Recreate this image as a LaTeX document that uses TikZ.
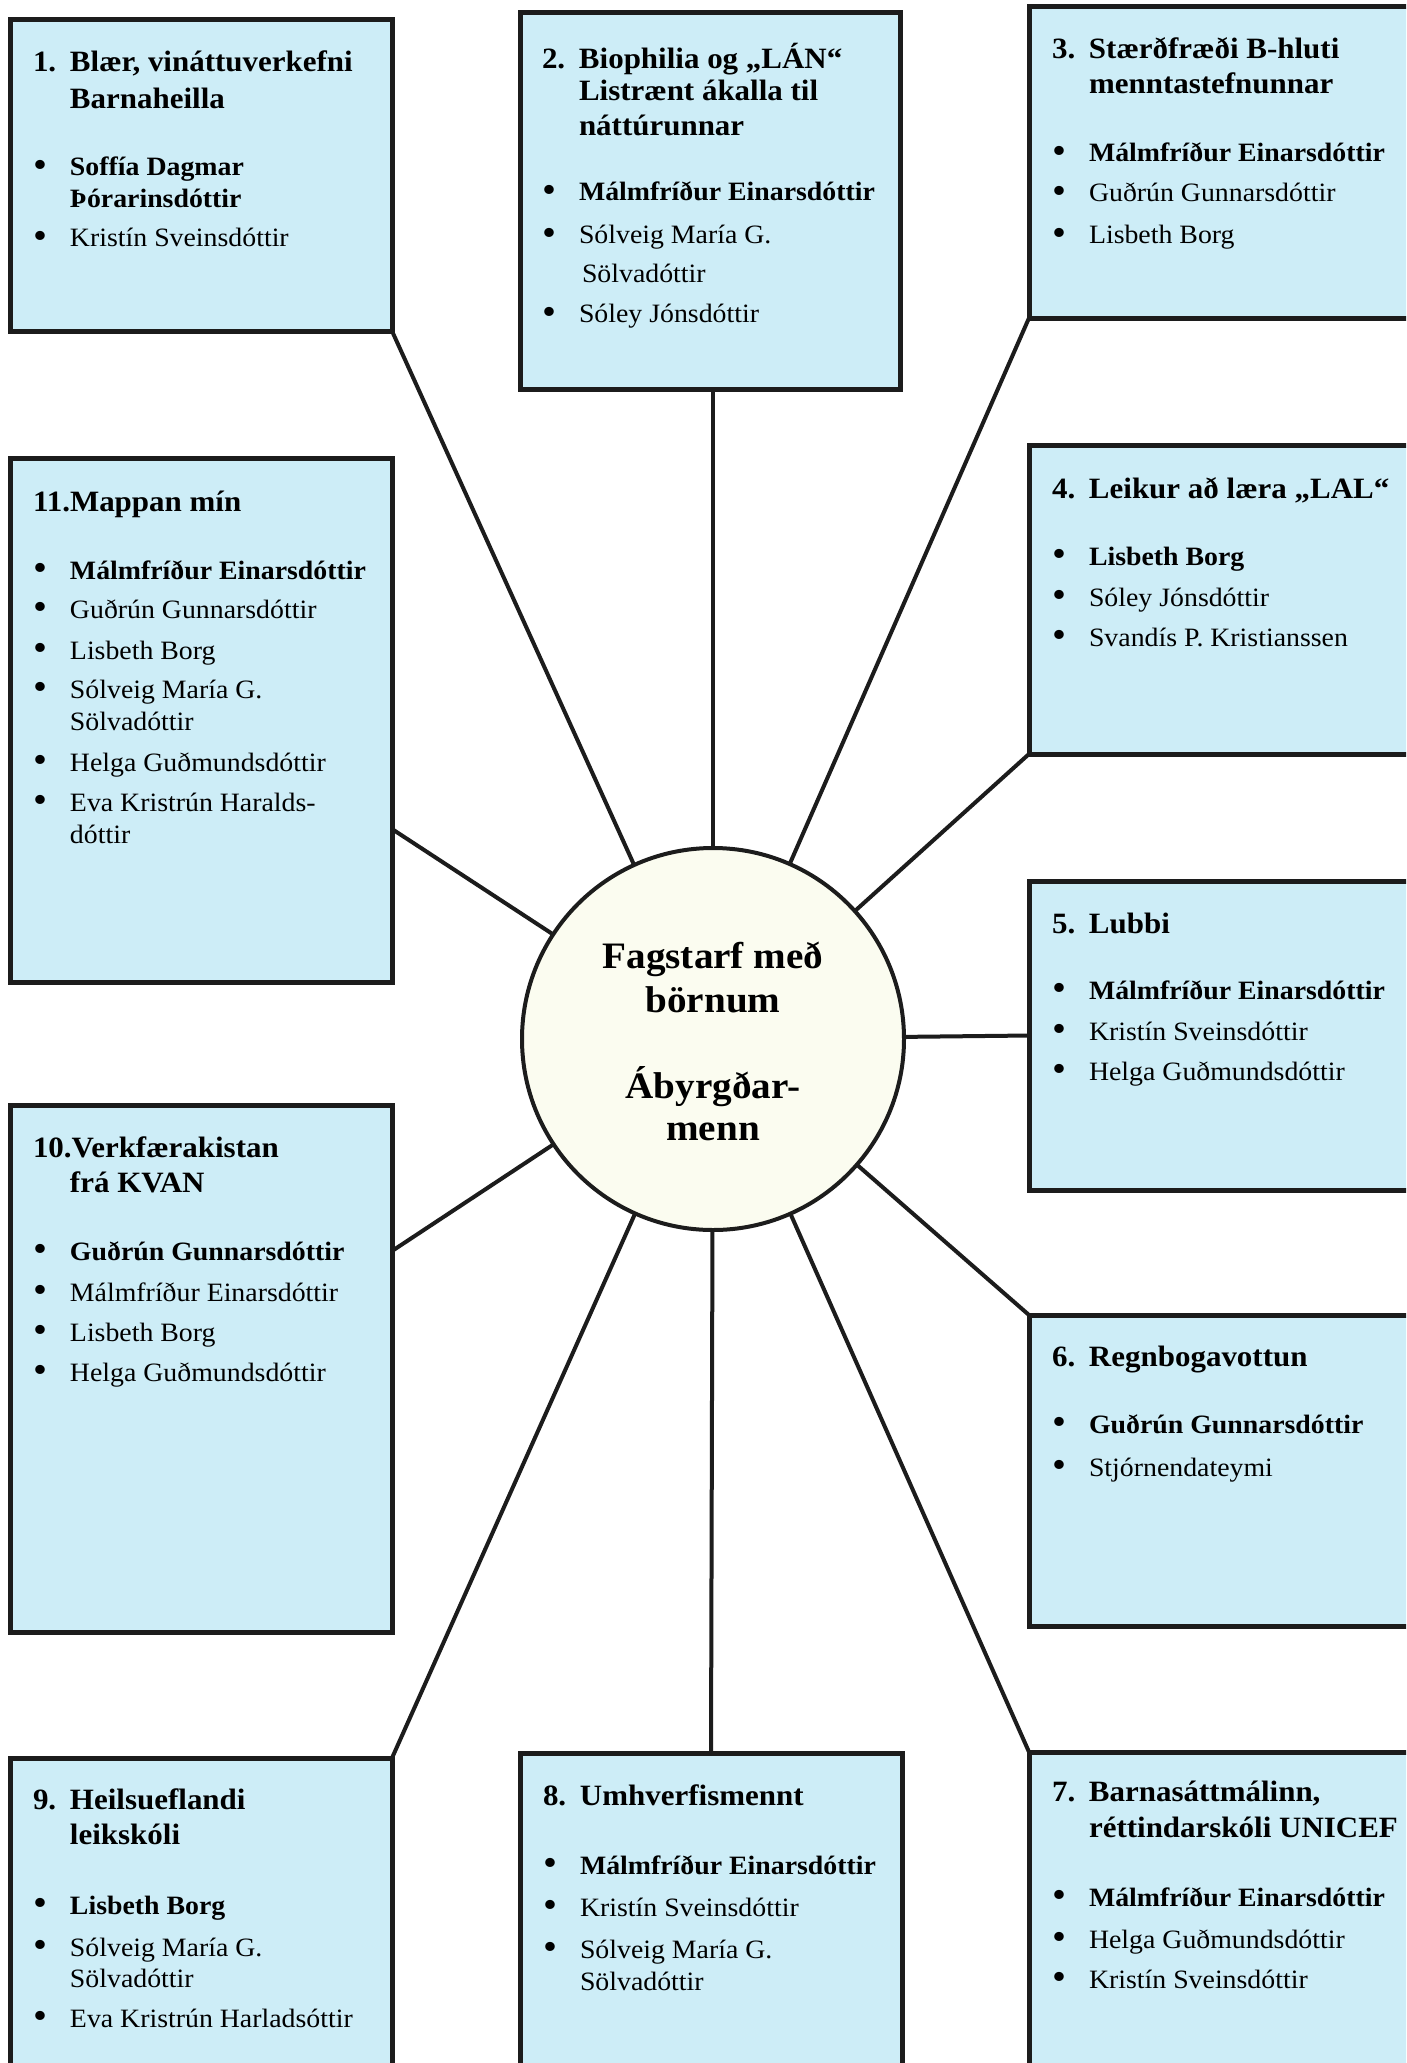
\documentclass[tikz,border=0pt]{standalone}
\usepackage{fontspec}
\setmainfont{Liberation Serif}[FakeStretch=1.05]
\usetikzlibrary{calc}
\definecolor{boxfill}{RGB}{205,237,247}
\definecolor{circfill}{RGB}{251,252,240}
\definecolor{ink}{RGB}{28,28,28}
\newcommand\Lsetup{\baselineskip=0pt\lineskip=0pt\lineskiplimit=-\maxdimen}
\newcommand\Tf{\fontsize{29.5}{35}\selectfont\bfseries}
\newcommand\Bf{\fontsize{26.5}{32}\selectfont}
\newcommand\Cf{\fontsize{37.3}{44}\selectfont\bfseries}
\newcommand\Ln[3]{\vskip#1\hbox{\hbox to 37pt{#2\hfil}#3}}
\newcommand\Fl[2]{\hbox{\hbox to 37pt{\Tf #1\hfil}\Tf #2}}
\newcommand\Bu{\raisebox{-1.5pt}{\fontsize{38}{38}\selectfont\textbullet}}
\newcommand\Cl[1]{\hbox to 0pt{\hss #1\hss}}
\tikzset{
  box/.style={draw=ink, fill=boxfill, line width=5pt, rectangle, inner sep=0pt, outer sep=0pt},
  hub/.style={draw=ink, fill=circfill, circle, line width=4pt, inner sep=0pt, outer sep=0pt, minimum size=382pt},
  txt/.style={anchor=base west, inner sep=0pt, outer sep=0pt, text=black, font=\Bf},
  ctxt/.style={anchor=base, inner sep=0pt, outer sep=0pt, text=black, font=\Cf},
  conn/.style={draw=ink, line width=4pt},
}
\begin{document}
\begin{tikzpicture}[x=1pt, y=-1pt]
\path[use as bounding box] (0,0) rectangle (1406,2063);
\clip (0,0) rectangle (1406,2063);
\fill[white] (0,0) rectangle (1406,2063);

% boxes
\node[box, minimum width=382pt, minimum height=311pt] (b1) at (201,175.5) {};
\node[box, minimum width=380pt, minimum height=376pt] (b2) at (710,201) {};
\node[box, minimum width=391pt, minimum height=311pt] (b3) at (1224.5,162.5) {};
\node[box, minimum width=391pt, minimum height=309pt] (b4) at (1224.5,599.5) {};
\node[box, minimum width=391pt, minimum height=309pt] (b5) at (1224.5,1035.5) {};
\node[box, minimum width=391pt, minimum height=311pt] (b6) at (1224.5,1470.5) {};
\node[box, minimum width=391pt, minimum height=328pt] (b7) at (1224.5,1916) {};
\node[box, minimum width=382pt, minimum height=327pt] (b8) at (711,1916.5) {};
\node[box, minimum width=382pt, minimum height=322pt] (b9) at (201,1919) {};
\node[box, minimum width=382pt, minimum height=527pt] (b10) at (201,1368.5) {};
\node[box, minimum width=382pt, minimum height=524pt] (b11) at (201,720) {};

% hub
\node[hub] (c) at (713,1039) {};

% connectors
\draw[conn] (b1.south east) -- (c);
\draw[conn] (c |- b2.south) -- (c);
\draw[conn] (b3.south west) -- (c);
\draw[conn] (b4.south west) -- (c);
\draw[conn] (b5.west) -- (c);
\draw[conn] (b6.north west) -- (c);
\draw[conn] (b7.north west) -- (c);
\draw[conn] (b8.north) -- (c);
\draw[conn] (b9.north east) -- (c);
\draw[conn] ($(b10.north east)+(0,146)$) -- (c);
\draw[conn] ($(b11.north east)+(0,371)$) -- (c);

% hub text
\node[ctxt] (ct) at (713,968) {\vtop{\Lsetup
  \Cl{Fagstarf með}\vskip44pt
  \Cl{börnum}\vskip86pt
  \Cl{Ábyrgðar-}\vskip42pt
  \Cl{menn}}};

% box texts
\node[txt] (t1) at (33,72) {\vtop{\Lsetup
  \Fl{1.}{Blær, vináttuverkefni}
  \Ln{37pt}{}{\Tf Barnaheilla}
  \Ln{67pt}{\Bu}{\bfseries Soffía Dagmar}
  \Ln{32pt}{}{\bfseries Þórarinsdóttir}
  \Ln{39pt}{\Bu}{Kristín Sveinsdóttir}}};

\node[txt] (t2) at (542,69) {\vtop{\Lsetup
  \Fl{2.}{Biophilia og „LÁN“}
  \Ln{32pt}{}{\Tf Listrænt ákalla til}
  \Ln{35pt}{}{\Tf náttúrunnar}
  \Ln{65pt}{\Bu}{\bfseries Málmfríður Einarsdóttir}
  \Ln{43pt}{\Bu}{Sólveig María G.}
  \Ln{39pt}{}{\hskip3pt Sölvadóttir}
  \Ln{40pt}{\Bu}{Sóley Jónsdóttir}}};

\node[txt] (t3) at (1052,59) {\vtop{\Lsetup
  \Fl{3.}{Stærðfræði B-hluti}
  \Ln{35pt}{}{\Tf menntastefnunnar}
  \Ln{68pt}{\Bu}{\bfseries Málmfríður Einarsdóttir}
  \Ln{40pt}{\Bu}{Guðrún Gunnarsdóttir}
  \Ln{42pt}{\Bu}{Lisbeth Borg}}};

\node[txt] (t4) at (1052,498) {\vtop{\Lsetup
  \Fl{4.}{Leikur að læra „LAL“}
  \Ln{67pt}{\Bu}{\bfseries Lisbeth Borg}
  \Ln{41pt}{\Bu}{Sóley Jónsdóttir}
  \Ln{40pt}{\Bu}{Svandís P. Kristianssen}}};

\node[txt] (t5) at (1052,933) {\vtop{\Lsetup
  \Fl{5.}{Lubbi}
  \Ln{66pt}{\Bu}{\bfseries Málmfríður Einarsdóttir}
  \Ln{41pt}{\Bu}{Kristín Sveinsdóttir}
  \Ln{40pt}{\Bu}{Helga Guðmundsdóttir}}};

\node[txt] (t6) at (1052,1366) {\vtop{\Lsetup
  \Fl{6.}{Regnbogavottun}
  \Ln{67pt}{\Bu}{\bfseries Guðrún Gunnarsdóttir}
  \Ln{43pt}{\Bu}{Stjórnendateymi}}};

\node[txt] (t7) at (1052,1801) {\vtop{\Lsetup
  \Fl{7.}{Barnasáttmálinn,}
  \Ln{36pt}{}{\Tf réttindarskóli UNICEF}
  \Ln{69pt}{\Bu}{\bfseries Málmfríður Einarsdóttir}
  \Ln{42pt}{\Bu}{Helga Guðmundsdóttir}
  \Ln{40pt}{\Bu}{Kristín Sveinsdóttir}}};

\node[txt] (t8) at (543,1805) {\vtop{\Lsetup
  \Fl{8.}{Umhverfismennt}
  \Ln{69pt}{\Bu}{\bfseries Málmfríður Einarsdóttir}
  \Ln{42pt}{\Bu}{Kristín Sveinsdóttir}
  \Ln{42pt}{\Bu}{Sólveig María G.}
  \Ln{32pt}{}{Sölvadóttir}}};

\node[txt] (t9) at (33,1809) {\vtop{\Lsetup
  \Fl{9.}{Heilsueflandi}
  \Ln{35pt}{}{\Tf leikskóli}
  \Ln{70pt}{\Bu}{\bfseries Lisbeth Borg}
  \Ln{42pt}{\Bu}{Sólveig María G.}
  \Ln{31pt}{}{Sölvadóttir}
  \Ln{40pt}{\Bu}{Eva Kristrún Harladsóttir}}};

\node[txt] (t10) at (33,1157) {\vtop{\Lsetup
  \hbox{\Tf 10.Verkfærakistan}
  \Ln{35pt}{}{\Tf frá KVAN}
  \Ln{68pt}{\Bu}{\bfseries Guðrún Gunnarsdóttir}
  \Ln{41pt}{\Bu}{Málmfríður Einarsdóttir}
  \Ln{40pt}{\Bu}{Lisbeth Borg}
  \Ln{40pt}{\Bu}{Helga Guðmundsdóttir}}};

\node[txt] (t11) at (33,511) {\vtop{\Lsetup
  \hbox{\Tf 11.Mappan mín}
  \Ln{68pt}{\Bu}{\bfseries Málmfríður Einarsdóttir}
  \Ln{39pt}{\Bu}{Guðrún Gunnarsdóttir}
  \Ln{41pt}{\Bu}{Lisbeth Borg}
  \Ln{39pt}{\Bu}{Sólveig María G.}
  \Ln{32pt}{}{Sölvadóttir}
  \Ln{41pt}{\Bu}{Helga Guðmundsdóttir}
  \Ln{40pt}{\Bu}{Eva Kristrún Haralds-}
  \Ln{32pt}{}{dóttir}}};
\end{tikzpicture}
\end{document}
